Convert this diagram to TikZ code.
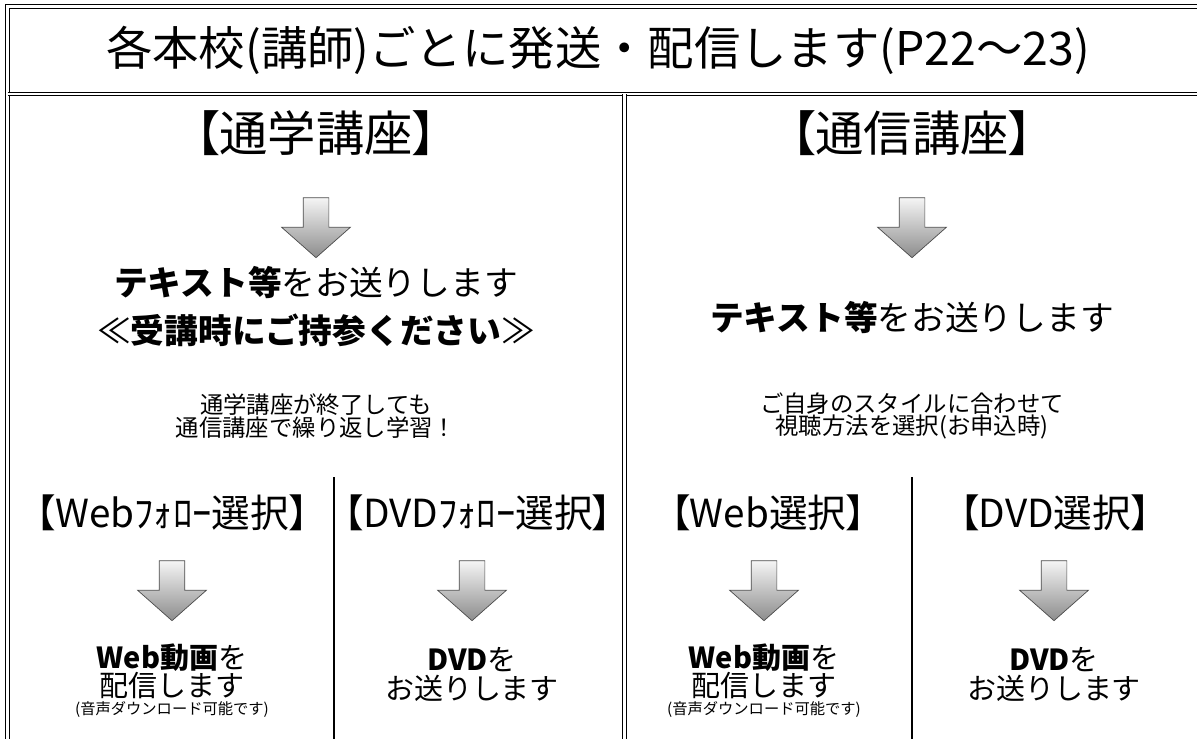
\documentclass[tikz,border=0pt]{standalone}
\usepackage{fontspec}
\setmainfont{Noto Sans CJK JP}
\newfontfamily\jpp{Noto Sans CJK JP}[CharacterWidth=AlternateProportional]
\usetikzlibrary{shapes.arrows}
\tikzset{
  frame/.style={draw, double, line width=0.55pt, double distance=1.3pt},
  subline/.style={draw, line width=0.6pt},
  title/.style={font=\fontsize{26.4}{30}\selectfont},
  head/.style={font=\jpp\fontsize{27.5}{30}\selectfont},
  subhead/.style={font=\jpp\fontsize{22}{26}\selectfont},
  lead/.style={font=\fontsize{19.2}{22}\selectfont},
  note/.style={font=\fontsize{13.3}{13}\selectfont, align=center},
  body/.style={font=\fontsize{16.5}{19}\selectfont},
  tiny/.style={font=\fontsize{8.7}{10}\selectfont},
  downarrow/.style={single arrow, shape border rotate=270, draw=black!70, line width=0.4pt,
    top color=black!4, bottom color=black!45, inner sep=0.25cm, minimum height=1.2cm,
    single arrow head extend=0.43cm, single arrow tip angle=97}
}

\begin{document}
\begin{tikzpicture}[x=0.02cm, y=-0.02cm]
  \useasboundingbox (0,0) rectangle (1197,738);

  % table frame
  \path[frame] (1210,6.5) -- (7.5,6.5) -- (7.5,745);
  \path[frame] (7.5,94) -- (1210,94);
  \path[frame] (624.5,94) -- (624.5,745);
  \path[subline] (334,477) -- (334,745);
  \path[subline] (912,477) -- (912,745);

  \node[title] at (598,50) (title) {各本校(講師)ごとに発送・配信します(P22～23)};

  % left: tsugaku
  \node[head] at (316,133) (tsugaku) {【通学講座】};
  \node[downarrow] at (316,222) (arr_tsugaku) {};
  \node[lead] at (316,283) (text_tsugaku) {\textbf{テキスト等}をお送りします};
  \node[lead] at (316,330) (bring) {≪\textbf{受講時にご持参ください}≫};
  \node[note] at (316,416) (repeat) {通学講座が終了しても\\通信講座で繰り返し学習！};

  \node[subhead] at (172,513) (webfollow) {【Webﾌｫﾛｰ選択】};
  \node[downarrow] at (172,585) (arr_webfollow) {};
  \node[body] at (172,658) (web_a1) {\textbf{Web動画}を};
  \node[body] at (172,686) (web_a2) {配信します};
  \node[tiny] at (172,710) (web_a3) {(音声ダウンロード可能です)};

  \node[subhead] at (478,513) (dvdfollow) {【DVDﾌｫﾛｰ選択】};
  \node[downarrow] at (472,585) (arr_dvdfollow) {};
  \node[body] at (472,660) (dvd_a1) {\textbf{DVD}を};
  \node[body] at (472,688) (dvd_a2) {お送りします};

  % right: tsushin
  \node[head] at (912,133) (tsushin) {【通信講座】};
  \node[downarrow] at (912,222) (arr_tsushin) {};
  \node[lead] at (912,318) (text_tsushin) {\textbf{テキスト等}をお送りします};
  \node[note] at (912,416) (style) {ご自身のスタイルに合わせて\\視聴方法を選択(お申込時)};

  \node[subhead] at (768,513) (websel) {【Web選択】};
  \node[downarrow] at (764,585) (arr_websel) {};
  \node[body] at (764,658) (web_b1) {\textbf{Web動画}を};
  \node[body] at (764,686) (web_b2) {配信します};
  \node[tiny] at (764,710) (web_b3) {(音声ダウンロード可能です)};

  \node[subhead] at (1055,513) (dvdsel) {【DVD選択】};
  \node[downarrow] at (1054,585) (arr_dvdsel) {};
  \node[body] at (1054,660) (dvd_b1) {\textbf{DVD}を};
  \node[body] at (1054,688) (dvd_b2) {お送りします};
\end{tikzpicture}
\end{document}
